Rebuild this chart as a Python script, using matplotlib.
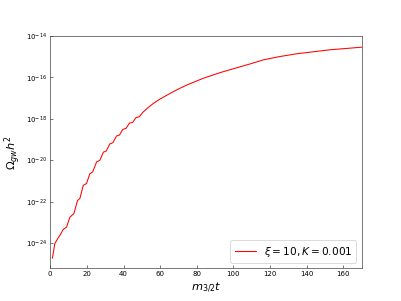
import matplotlib
matplotlib.use("Agg")
import matplotlib.pyplot as plt

t_vals = [1.2, 2.0, 2.5, 4.0, 5.5, 7.0, 8.9, 10.7, 12.9, 14.9, 16.2, 18.0, 19.8,
          21.6, 23.1, 25.3, 27.1, 29.0, 30.6, 32.5, 34.2, 36.2, 37.8, 39.6, 41.4,
          43.2, 45.0, 46.8, 48.6, 50.5, 53.0, 56.4, 60.0, 65.5, 70.0, 74.6, 80.0,
          83.6, 92.7, 102.7, 110.0, 116.4, 125.0, 134.6, 145.0, 152.7, 162.0, 170.0]
omega_vals = [1.86e-25, 5.0e-25, 9.3e-25, 1.58e-24, 2.5e-24, 4.4e-24, 5.8e-24,
              1.74e-23, 2.63e-23, 1.12e-22, 1.41e-22, 6.0e-22, 7.4e-22, 2.19e-21,
              2.63e-21, 8.1e-21, 9.8e-21, 2.4e-20, 2.75e-20, 6.0e-20, 6.9e-20,
              1.45e-19, 1.62e-19, 3.0e-19, 3.4e-19, 6.0e-19, 6.6e-19, 1.12e-18,
              1.23e-18, 2.0e-18, 3.2e-18, 5.5e-18, 8.9e-18, 1.66e-17, 2.7e-17,
              4.2e-17, 6.6e-17, 8.9e-17, 1.66e-16, 3.0e-16, 4.6e-16, 6.9e-16,
              9.8e-16, 1.35e-15, 1.74e-15, 2.1e-15, 2.45e-15, 2.8e-15]
legend_label = r"$\xi=10, K=0.001$"

fig = plt.figure(figsize=(6.4, 4.8), dpi=62.8)
ax = fig.add_axes([0.125, 0.11, 0.775, 0.77])
ax.semilogy(t_vals, omega_vals, color="red", lw=1.2, label=legend_label)
ax.set_xlim(0, 170)
ax.set_ylim(6.3e-26, 1e-14)
ax.set_yticks([1e-24, 1e-22, 1e-20, 1e-18, 1e-16, 1e-14])
ax.minorticks_off()
ax.tick_params(direction="in", labelsize=8, color="#444444")
for s in ax.spines.values():
    s.set_color("#444444")
ax.set_xlabel(r"$m_{3/2}t$", fontsize=13)
ax.set_ylabel(r"$\Omega_{gw}h^2$", fontsize=13)
ax.legend(loc="lower right", fontsize=12)
fig.savefig("out.png", dpi=62.8)
